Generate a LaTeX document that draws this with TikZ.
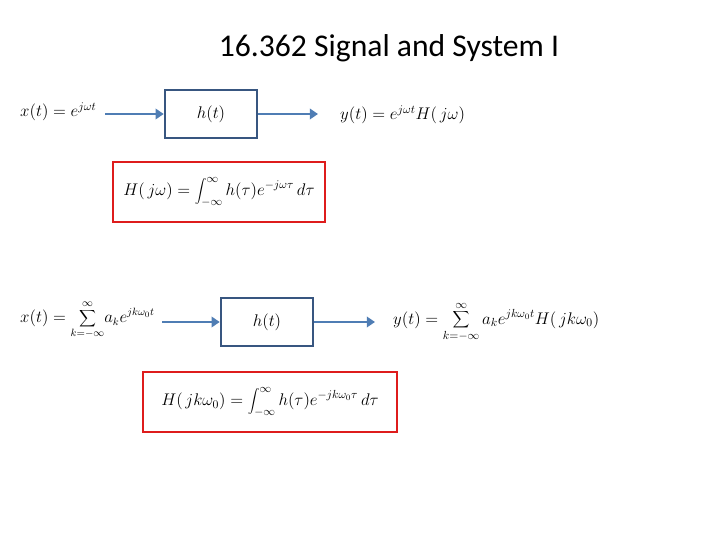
\documentclass[tikz,border=0pt]{standalone}
\usepackage{fontspec}
\newfontfamily\titlefont{Carlito}
\usetikzlibrary{arrows.meta}
\definecolor{sysblue}{RGB}{56,86,128}
\definecolor{arrblue}{RGB}{79,125,180}
\definecolor{boxred}{RGB}{222,28,28}
\tikzset{
  eqfont/.style={font=\fontsize{14.5}{17}\selectfont},
  sysbox/.style={draw=sysblue,line width=2.2pt,minimum width=2.76cm,minimum height=1.44cm,eqfont},
  redbox/.style={draw=boxred,line width=2.2pt,minimum height=1.8cm,eqfont},
  eqn/.style={anchor=west,inner sep=0pt,eqfont},
  sigarrow/.style={draw=arrblue,line width=2.4pt,-{Triangle[length=7pt,width=9pt]}}
}
\begin{document}
\begin{tikzpicture}[x=0.03cm,y=-0.03cm]
\useasboundingbox (0,0) rectangle (720,540);
\node[font=\titlefont\fontsize{27}{32}\selectfont] (title) at (389,48) {16.362 Signal and System I};
% periodic exponential input
\node[eqn] (x1) at (20,112) {$x(t)=e^{j\omega t}$};
\node[sysbox] (sys1) at (211,114) {$h(t)$};
\node[eqn] (y1) at (340,115) {$y(t)=e^{j\omega t}H(\,j\omega)$};
\node[redbox,minimum width=6.36cm] (H1) at (219,192)
  {$\displaystyle H(\,j\omega)=\int_{-\infty}^{\infty}h(\tau)e^{-j\omega\tau}\,d\tau$};
\draw[sigarrow] (105,0 |- sys1) -- (sys1.west);
\draw[sigarrow] (sys1.east) -- (318,0 |- sys1);
% fourier series input
\node[eqn,font=\fontsize{13.5}{16}\selectfont] (x2) at (20,320)
  {$x(t)=\displaystyle\sum_{k=-\infty}^{\infty}\!a_k e^{jk\omega_0 t}$};
\node[sysbox] (sys2) at (267,322) {$h(t)$};
\node[eqn] (y2) at (393,322) {$y(t)=\displaystyle\sum_{k=-\infty}^{\infty}a_k e^{jk\omega_0 t}H(\,jk\omega_0)$};
\node[redbox,minimum width=7.62cm] (H2) at (270,402)
  {$\displaystyle H(\,jk\omega_0)=\int_{-\infty}^{\infty}h(\tau)e^{-jk\omega_0\tau}\,d\tau$};
\draw[sigarrow] (162,0 |- sys2) -- (sys2.west);
\draw[sigarrow] (sys2.east) -- (375,0 |- sys2);
\end{tikzpicture}
\end{document}
